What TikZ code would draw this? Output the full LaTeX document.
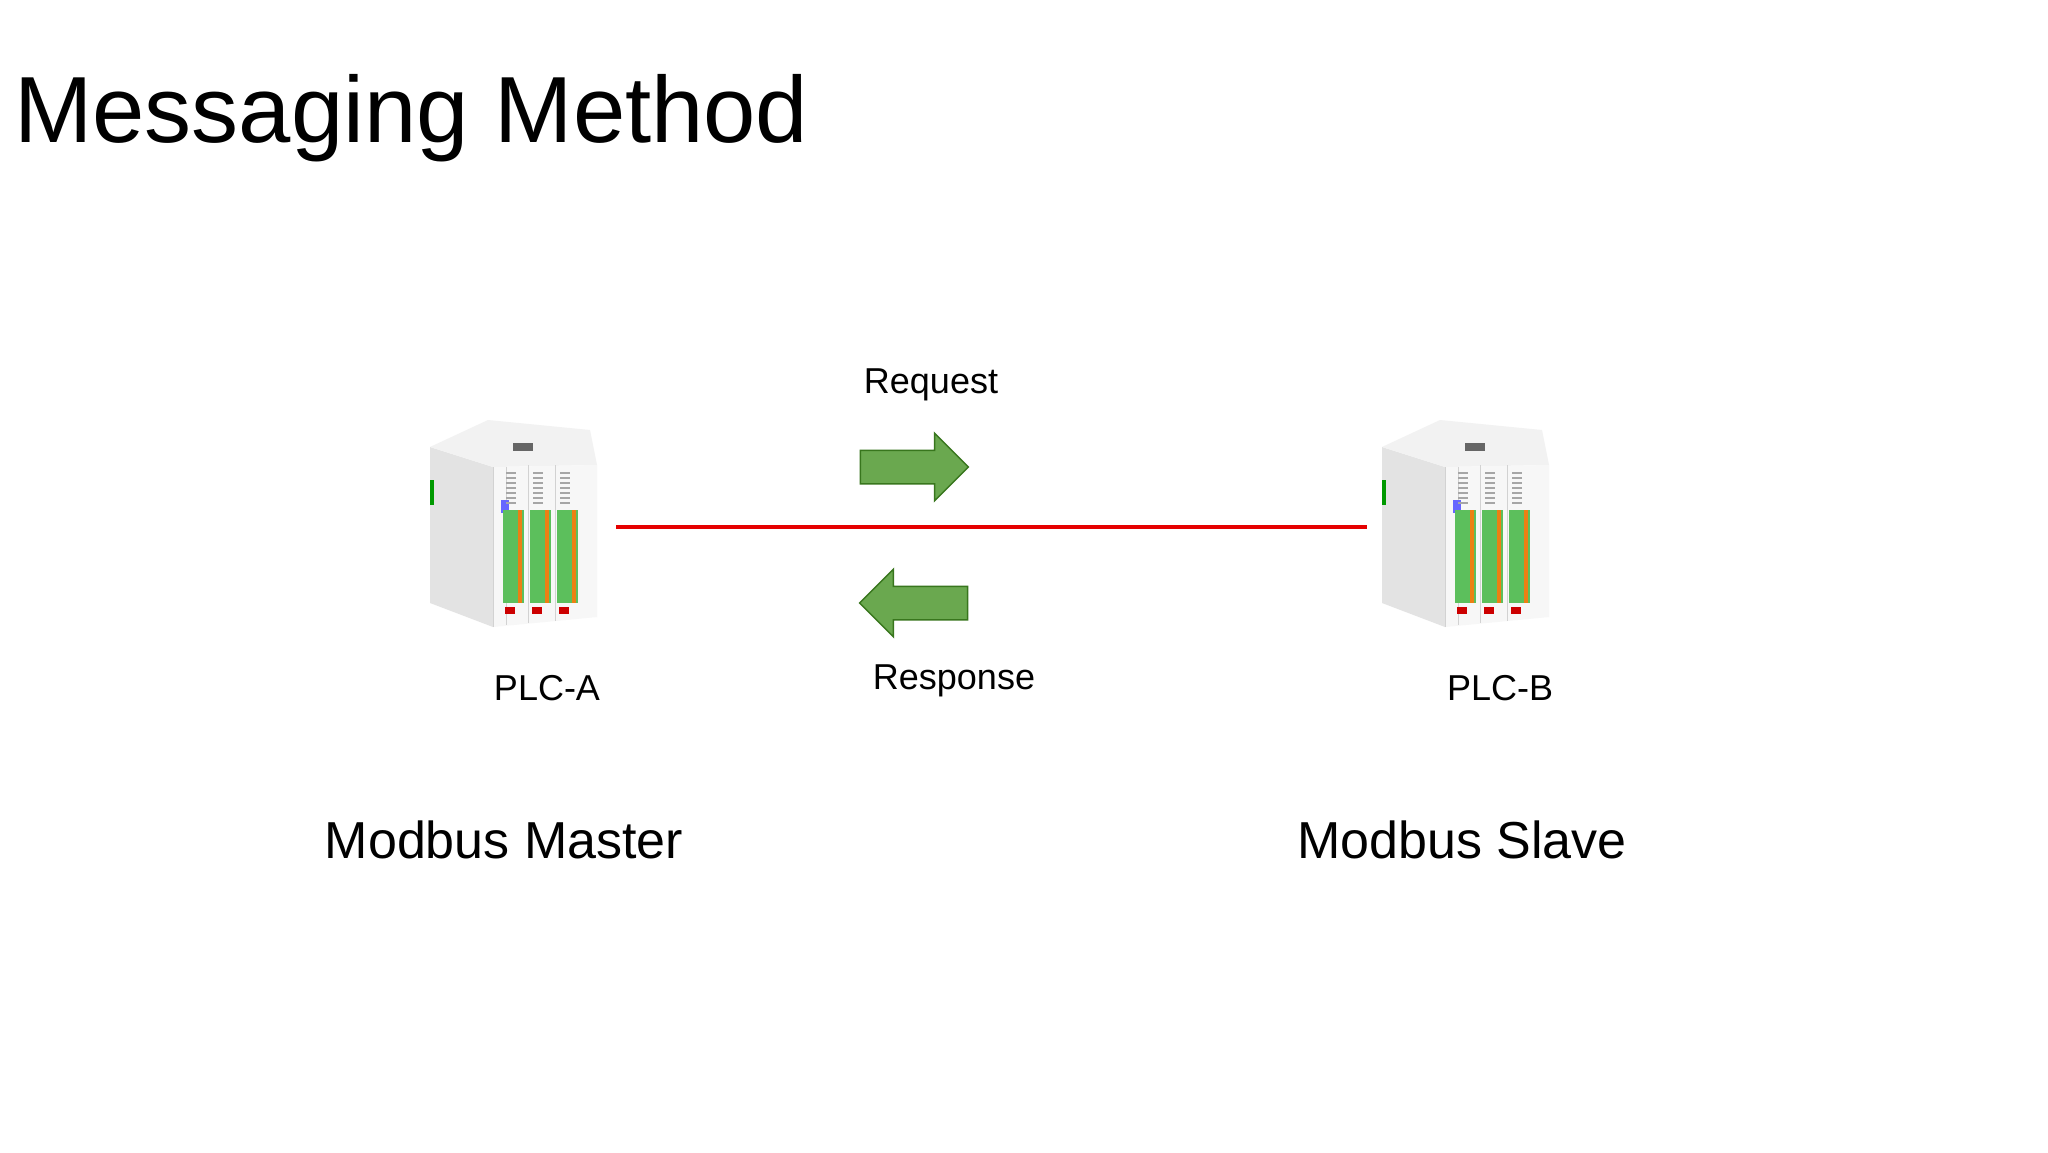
\documentclass[tikz,border=0pt]{standalone}
\usepackage{fontspec}
\setmainfont{Liberation Sans}
\usetikzlibrary{shapes.arrows}
\definecolor{arrg}{HTML}{6AA84F}
\definecolor{arrb}{HTML}{38761D}
\definecolor{term}{HTML}{5CBF5C}
\tikzset{
  x=1pt,y=-1pt,
  lbl/.style={inner sep=0pt,font=\fontsize{36}{40}\selectfont},
  role/.style={inner sep=0pt,font=\fontsize{52}{56}\selectfont},
  garrow/.style={single arrow,draw=arrb,fill=arrg,line width=1.5pt,minimum height=108,minimum width=66,single arrow head extend=17,inner xsep=0pt,inner ysep=16pt,anchor=center},
  link/.style={draw=red!90!black,line width=4pt},
  pics/plc/.style={code={
    \fill[gray!22] (-88,-78) -- (-25,-58) -- (-25,102) -- (-88,78) -- cycle;
    \fill[gray!10] (-88,-78) -- (-30,-105) -- (72,-95) -- (79,-60) -- (-25,-58) -- cycle;
    \fill[gray!6] (-25,-58) -- (79,-60) -- (79,92) -- (-25,102) -- cycle;
    \draw[gray!35,line width=1pt] (-25,-58) -- (-25,102) (-12,-58)--(-12,100) (10,-60)--(10,98) (37,-60)--(37,96);
    \fill[green!60!black] (-88,-45) rectangle (-84,-20);
    \fill[blue!60] (-17,-25) rectangle (-9,-12);
    \foreach \a in {-15,12,39}{
      \fill[term] (\a,-15) rectangle ++(21,93);
      \fill[orange!70!brown] (\a+15,-15) rectangle ++(4,93);
      \fill[red!80!black] (\a+2,82) rectangle ++(10,7);
      \foreach \k in {0,...,6} \draw[gray!70,line width=1.2pt] (\a+3,-52+\k*5) -- ++(10,0);
    }
    \fill[black!60] (-5,-82) rectangle (15,-74);
  }}
}
\begin{document}
\begin{tikzpicture}
\useasboundingbox[fill=white] (0,0) rectangle (2048,1152);
\node[anchor=base west,inner sep=0pt,font=\fontsize{94}{104}\selectfont] (title) at (14,142) {Messaging Method};
\pic (plca) at (518,525) {plc};
\pic (plcb) at (1470,525) {plc};
\coordinate (la) at (616,527);
\coordinate (lb) at (1367,527);
\draw[link] (la) -- (lb);
\node[garrow] (req) at (906,467) {};
\node[garrow,shape border rotate=180] (resp) at (922,603) {};
\node[lbl] (reqt) at (931,385) {Request};
\node[lbl] (respt) at (954,681) {Response};
\node[lbl] (pa) at (547,688) {PLC-A};
\node[lbl] (pb) at (1500,688) {PLC-B};
\node[role] (mm) at (504,840) {Modbus Master};
\node[role] (ms) at (1462,840) {Modbus Slave};
\end{tikzpicture}
\end{document}
